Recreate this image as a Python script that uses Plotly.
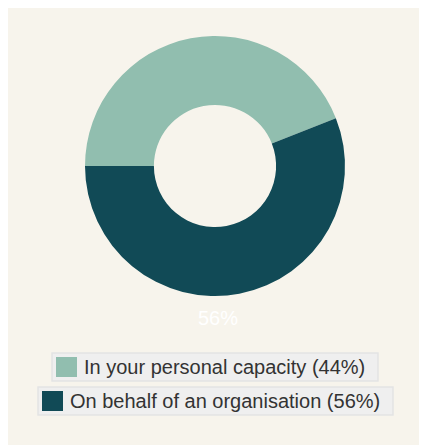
import plotly.graph_objects as go

labels = ["In your personal capacity", "On behalf of an organisation"]
values = [44, 56]
colors = ["#91beaf", "#114a56"]

W, H = 427, 445
BG = "#f7f4ec"
OFF = 8  # page body offset

def px(x):
    return (x - OFF) / W

def py(y):
    return 1 - (y - OFF) / H

total = sum(values)
pcts = [round(v / total * 100) for v in values]

fig = go.Figure()
fig.add_trace(go.Pie(
    labels=labels,
    values=values,
    hole=0.47,
    sort=False,
    direction="clockwise",
    rotation=270,
    marker=dict(colors=colors, line=dict(width=0)),
    textinfo="none",
    domain=dict(x=[px(85), px(345)], y=[py(296), py(36)]),
    showlegend=False,
    hoverinfo="skip",
))

shapes = []
annotations = [dict(
    xref="paper", yref="paper", x=px(218), y=py(318), xanchor="center", yanchor="middle",
    text=f"{pcts[1]}%", showarrow=False,
    font=dict(size=20, color="white", family="Liberation Sans, Arial, sans-serif"),
)]
# legend rows: box left, box right, box center y (window px)
rows = [(52, 378, 367), (38, 393, 401)]
for (bl, br, cy), lab, p, col in zip(rows, labels, pcts, colors):
    shapes.append(dict(type="rect", xref="paper", yref="paper",
                       x0=px(bl), x1=px(br), y0=py(cy + 14), y1=py(cy - 14),
                       fillcolor="#efefef", line=dict(color="#e4e4e4", width=1.5), layer="below"))
    shapes.append(dict(type="rect", xref="paper", yref="paper",
                       x0=px(bl + 4), x1=px(bl + 25), y0=py(cy + 10), y1=py(cy - 10),
                       fillcolor=col, line=dict(width=0)))
    annotations.append(dict(
        xref="paper", yref="paper", x=px(bl + 30), y=py(cy), xanchor="left", yanchor="middle",
        text=f"{lab} ({p}%)", showarrow=False,
        font=dict(size=20, color="#333333", family="Liberation Sans, Arial, sans-serif"),
    ))

fig.update_layout(
    width=W, height=H,
    margin=dict(l=0, r=0, t=0, b=0),
    paper_bgcolor=BG,
    plot_bgcolor=BG,
    shapes=shapes,
    annotations=annotations,
)

fig.write_html("out.html")
